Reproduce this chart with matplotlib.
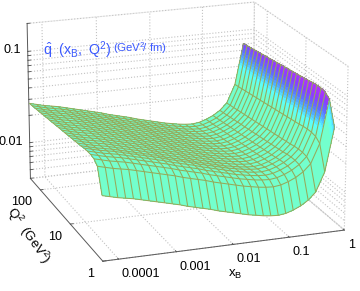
import numpy as np, matplotlib
matplotlib.use('Agg')
import matplotlib.pyplot as plt
from matplotlib.colors import LinearSegmentedColormap
W,H=360,291
plt.rcParams['font.family']='Liberation Sans'
plt.rcParams['mathtext.fontset']='custom'
plt.rcParams['mathtext.rm']='Liberation Sans'
plt.rcParams['mathtext.it']='Liberation Sans'
plt.rcParams['mathtext.default']='regular'
log_x=[-4.27,-4.137,-4.003,-3.87,-3.737,-3.603,-3.47,-3.337,-3.203,-3.07,-2.937,-2.803,-2.67,-2.537,-2.403,-2.27,-2.137,-2.003,-1.87,-1.737,-1.603,-1.47,-1.337,-1.203,-1.07,-.937,-.803,-.67,-.537,-.38,-.22]
log_q=[0,.13,.23,.33,.43,.53,.63,.73,.83,.93,1.03,1.13,1.23,1.33,1.43,1.53,1.63,1.73,1.83,1.93,2.03,2.13,2.23,2.33]
log_qhat=[
[-1.73,-1.75,-1.77,-1.785,-1.80,-1.82,-1.84,-1.86,-1.88,-1.90,-1.92,-1.945,-1.965,-1.985,-2.005,-2.03,-2.05,-2.07,-2.09,-2.11,-2.125,-2.14,-2.15,-2.155,-2.145,-2.12,-2.085,-2.035,-1.96,-1.76,-1.31],
[-1.48,-1.50,-1.52,-1.535,-1.55,-1.57,-1.59,-1.61,-1.63,-1.65,-1.67,-1.695,-1.715,-1.735,-1.755,-1.78,-1.80,-1.82,-1.84,-1.86,-1.875,-1.89,-1.90,-1.905,-1.895,-1.87,-1.835,-1.785,-1.71,-1.51,-1.06],
[-1.44,-1.46,-1.48,-1.495,-1.51,-1.53,-1.55,-1.57,-1.59,-1.61,-1.63,-1.655,-1.675,-1.695,-1.715,-1.74,-1.76,-1.78,-1.80,-1.82,-1.835,-1.85,-1.86,-1.865,-1.855,-1.83,-1.795,-1.745,-1.67,-1.47,-1.02],
[-1.43,-1.45,-1.47,-1.485,-1.50,-1.52,-1.54,-1.56,-1.58,-1.60,-1.62,-1.645,-1.665,-1.685,-1.705,-1.73,-1.75,-1.77,-1.79,-1.81,-1.825,-1.84,-1.85,-1.855,-1.845,-1.82,-1.785,-1.735,-1.66,-1.46,-1.01],
[-1.43,-1.45,-1.47,-1.485,-1.50,-1.52,-1.54,-1.56,-1.58,-1.60,-1.62,-1.645,-1.665,-1.685,-1.705,-1.73,-1.75,-1.77,-1.79,-1.81,-1.825,-1.84,-1.85,-1.855,-1.845,-1.82,-1.785,-1.735,-1.66,-1.46,-1.01],
[-1.435,-1.455,-1.475,-1.49,-1.505,-1.525,-1.545,-1.565,-1.585,-1.605,-1.625,-1.65,-1.67,-1.69,-1.71,-1.735,-1.755,-1.775,-1.795,-1.815,-1.83,-1.845,-1.855,-1.86,-1.85,-1.825,-1.79,-1.74,-1.665,-1.465,-1.015],
[-1.445,-1.465,-1.485,-1.50,-1.515,-1.535,-1.555,-1.575,-1.595,-1.615,-1.635,-1.66,-1.68,-1.70,-1.72,-1.745,-1.765,-1.785,-1.805,-1.825,-1.84,-1.855,-1.865,-1.87,-1.86,-1.835,-1.80,-1.75,-1.675,-1.475,-1.025],
[-1.452,-1.472,-1.492,-1.507,-1.522,-1.542,-1.562,-1.582,-1.602,-1.622,-1.642,-1.667,-1.687,-1.707,-1.727,-1.752,-1.772,-1.792,-1.812,-1.832,-1.847,-1.862,-1.872,-1.877,-1.867,-1.842,-1.807,-1.757,-1.682,-1.482,-1.032],
[-1.459,-1.479,-1.499,-1.514,-1.529,-1.549,-1.569,-1.589,-1.609,-1.629,-1.649,-1.674,-1.694,-1.714,-1.734,-1.759,-1.779,-1.799,-1.819,-1.839,-1.854,-1.869,-1.879,-1.884,-1.874,-1.849,-1.814,-1.764,-1.689,-1.489,-1.039],
[-1.466,-1.486,-1.506,-1.521,-1.536,-1.556,-1.576,-1.596,-1.616,-1.636,-1.656,-1.681,-1.701,-1.721,-1.741,-1.766,-1.786,-1.806,-1.826,-1.846,-1.861,-1.876,-1.886,-1.891,-1.881,-1.856,-1.821,-1.771,-1.696,-1.496,-1.046],
[-1.473,-1.493,-1.513,-1.528,-1.543,-1.563,-1.583,-1.603,-1.623,-1.643,-1.663,-1.688,-1.708,-1.728,-1.748,-1.773,-1.793,-1.813,-1.833,-1.853,-1.868,-1.883,-1.893,-1.898,-1.888,-1.863,-1.828,-1.778,-1.703,-1.503,-1.053],
[-1.48,-1.50,-1.52,-1.535,-1.55,-1.57,-1.59,-1.61,-1.63,-1.65,-1.67,-1.695,-1.715,-1.735,-1.755,-1.78,-1.80,-1.82,-1.84,-1.86,-1.875,-1.89,-1.90,-1.905,-1.895,-1.87,-1.835,-1.785,-1.71,-1.51,-1.06],
[-1.486,-1.506,-1.526,-1.541,-1.556,-1.576,-1.596,-1.616,-1.636,-1.656,-1.676,-1.701,-1.721,-1.741,-1.761,-1.786,-1.806,-1.826,-1.846,-1.866,-1.881,-1.896,-1.906,-1.911,-1.901,-1.876,-1.841,-1.791,-1.716,-1.516,-1.066],
[-1.493,-1.513,-1.533,-1.548,-1.563,-1.583,-1.603,-1.623,-1.643,-1.663,-1.683,-1.708,-1.728,-1.748,-1.768,-1.793,-1.813,-1.833,-1.853,-1.873,-1.888,-1.903,-1.913,-1.918,-1.908,-1.883,-1.848,-1.798,-1.723,-1.523,-1.073],
[-1.50,-1.52,-1.54,-1.555,-1.57,-1.59,-1.61,-1.63,-1.65,-1.67,-1.69,-1.715,-1.735,-1.755,-1.775,-1.80,-1.82,-1.84,-1.86,-1.88,-1.895,-1.91,-1.92,-1.925,-1.915,-1.89,-1.855,-1.805,-1.73,-1.53,-1.08],
[-1.507,-1.527,-1.547,-1.562,-1.577,-1.597,-1.617,-1.637,-1.657,-1.677,-1.697,-1.722,-1.742,-1.762,-1.782,-1.807,-1.827,-1.847,-1.867,-1.887,-1.902,-1.917,-1.927,-1.932,-1.922,-1.897,-1.862,-1.812,-1.737,-1.537,-1.087],
[-1.514,-1.534,-1.554,-1.569,-1.584,-1.604,-1.624,-1.644,-1.664,-1.684,-1.704,-1.729,-1.749,-1.769,-1.789,-1.814,-1.834,-1.854,-1.874,-1.894,-1.909,-1.924,-1.934,-1.939,-1.929,-1.904,-1.869,-1.819,-1.744,-1.544,-1.094],
[-1.52,-1.54,-1.56,-1.575,-1.59,-1.61,-1.63,-1.65,-1.67,-1.69,-1.71,-1.735,-1.755,-1.775,-1.795,-1.82,-1.84,-1.86,-1.88,-1.90,-1.915,-1.93,-1.94,-1.945,-1.935,-1.91,-1.875,-1.825,-1.75,-1.55,-1.10],
[-1.527,-1.547,-1.567,-1.582,-1.597,-1.617,-1.637,-1.657,-1.677,-1.697,-1.717,-1.742,-1.762,-1.782,-1.802,-1.827,-1.847,-1.867,-1.887,-1.907,-1.922,-1.937,-1.947,-1.952,-1.942,-1.917,-1.882,-1.832,-1.757,-1.557,-1.107],
[-1.534,-1.554,-1.574,-1.589,-1.604,-1.624,-1.644,-1.664,-1.684,-1.704,-1.724,-1.749,-1.769,-1.789,-1.809,-1.834,-1.854,-1.874,-1.894,-1.914,-1.929,-1.944,-1.954,-1.959,-1.949,-1.924,-1.889,-1.839,-1.764,-1.564,-1.114],
[-1.541,-1.561,-1.581,-1.596,-1.611,-1.631,-1.651,-1.671,-1.691,-1.711,-1.731,-1.756,-1.776,-1.796,-1.816,-1.841,-1.861,-1.881,-1.901,-1.921,-1.936,-1.951,-1.961,-1.966,-1.956,-1.931,-1.896,-1.846,-1.771,-1.571,-1.121],
[-1.548,-1.568,-1.588,-1.603,-1.618,-1.638,-1.658,-1.678,-1.698,-1.718,-1.738,-1.763,-1.783,-1.803,-1.823,-1.848,-1.868,-1.888,-1.908,-1.928,-1.943,-1.958,-1.968,-1.973,-1.963,-1.938,-1.903,-1.853,-1.778,-1.578,-1.128],
[-1.554,-1.574,-1.594,-1.609,-1.624,-1.644,-1.664,-1.684,-1.704,-1.724,-1.744,-1.769,-1.789,-1.809,-1.829,-1.854,-1.874,-1.894,-1.914,-1.934,-1.949,-1.964,-1.974,-1.979,-1.969,-1.944,-1.909,-1.859,-1.784,-1.584,-1.134],
[-1.56,-1.58,-1.60,-1.615,-1.63,-1.65,-1.67,-1.69,-1.71,-1.73,-1.75,-1.775,-1.795,-1.815,-1.835,-1.86,-1.88,-1.90,-1.92,-1.94,-1.955,-1.97,-1.98,-1.985,-1.975,-1.95,-1.915,-1.865,-1.79,-1.59,-1.14],
]
x_ticks=[-4,-3,-2,-1,0]
x_labels=['0.0001','0.001','0.01','0.1','1']
q_ticks=[0,1,2]
q_labels=['1','10','100']
z_values=[.004,.005,.006,.007,.008,.009,.01,.02,.03,.04,.05,.06,.07,.08,.09,.1,.2]
z_labels=['','','','','','','0.01','','','','','','','','','0.1','']

lx=np.array(log_x);lq=np.array(log_q);Z=np.array(log_qhat)
fig=plt.figure(figsize=(W/100,H/100),dpi=100)
ax=fig.add_subplot(projection='3d')
ax.set_xlim(-4.27,0);ax.set_ylim(0,2.35);ax.set_zlim(-2.4,-0.7)
ax.view_init(elev=18.2123,azim=-109.5022)
ax.set_proj_type('persp',focal_length=1.15)
ax.set_box_aspect((1,1.0006,.675))
s=377.95
ax.set_position([-.0318,-.0957,s/W,s/H])
ax.patch.set_alpha(0)
ax.set_xticks(x_ticks);ax.set_xticklabels(x_labels,ha='left',va='top')
ax.set_yticks(q_ticks);ax.set_yticklabels(q_labels,ha='right',va='top')
ax.set_zticks(np.log10(z_values));ax.set_zticklabels(z_labels,ha='right',va='center')
for a in (ax.xaxis,ax.yaxis,ax.zaxis):
    a.pane.set_facecolor((1,1,1,0))
    a.pane.set_edgecolor((.78,.78,.78))
    a.pane.set_linestyle(':');a.pane.set_linewidth(.8)
    a._axinfo['grid'].update(color=(.76,.76,.76),linestyle=':',linewidth=.8)
    a.line.set_color((.35,.35,.35));a.line.set_linewidth(.7)
    a._axinfo['tick'].update(inward_factor=0.,outward_factor=.15,linewidth={True:.6,False:.6},color=(.3,.3,.3))
    a.set_tick_params(labelsize=9.1,pad=-3,colors='black',color=(.3,.3,.3))
ax.zaxis.set_tick_params(pad=-5)
stops=[(-1.9,(115,255,205)),(-1.48,(115,255,205)),(-1.38,(90,255,255)),(-1.30,(80,180,255)),(-1.22,(95,110,255)),(-1.13,(140,60,255)),(-1.05,(170,50,255))]
zl,zh=stops[0][0],stops[-1][0]
cm=LinearSegmentedColormap.from_list('c',[((a-zl)/(zh-zl),tuple(v/255 for v in c)) for a,c in stops])
# finer facets for a smooth colour ramp only; the mesh itself is the table above
fi=np.linspace(0,len(lx)-1,(len(lx)-1)*16+1)
XF=np.interp(fi,np.arange(len(lx)),lx)
ZF=np.array([np.interp(fi,np.arange(len(lx)),r) for r in Z])
XX,YY=np.meshgrid(XF,lq)
cols=cm(np.clip((ZF-zl)/(zh-zl),0,1))
ax.plot_surface(XX,YY,ZF,facecolors=cols,rstride=1,cstride=1,shade=False,antialiased=False,linewidth=0)
A,B=np.meshgrid(lx,lq)
ax.plot_wireframe(A,B,Z,rstride=1,cstride=1,color=(150/255,170/255,90/255),linewidth=.75)
def T(x,y,t,**k):
    ax.text2D(x/W,1-y/H,t,transform=fig.transFigure,**k)
blue=(60/255,90/255,1)
T(43,50,r'$\hat{q}\ \ (x_B,\ Q^2)$',color=blue,fontsize=10.3,va='center')
T(113,48,r'$(GeV^2\!/\ fm)$',color=blue,fontsize=8.2,va='center')
T(235,274,r'$x_B$',fontsize=9.5,ha='center',va='center')
T(28,236,r'$Q^2\ \ (GeV^2)$',fontsize=9.5,rotation=-55,ha='center',va='center',rotation_mode='anchor')
fig.savefig('out.png',dpi=100)
